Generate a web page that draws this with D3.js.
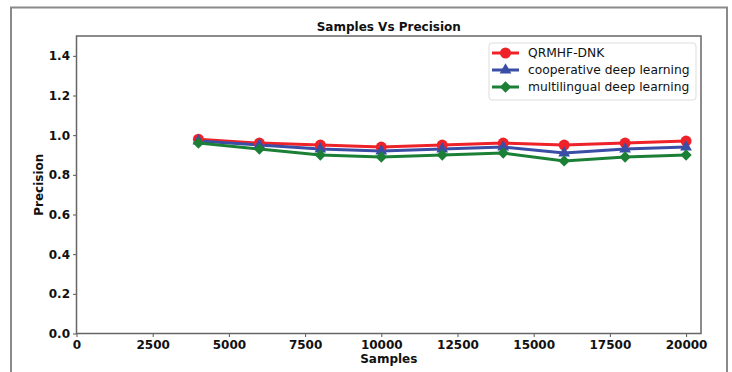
<!DOCTYPE html>
<html>
<head>
<meta charset="utf-8">
<script src="https://cdn.jsdelivr.net/npm/d3@7"></script>
<style>
  body { margin: 0; background: #fff; }
  svg { display: block; font-family: "DejaVu Sans", sans-serif; }
</style>
</head>
<body>
<div id="chart"></div>
<script>
// data
const samples = [4000, 6000, 8000, 10000, 12000, 14000, 16000, 18000, 20000];
const qrmhf = [0.98, 0.96, 0.95, 0.94, 0.95, 0.96, 0.95, 0.96, 0.97];
const cooperative = [0.97, 0.95, 0.93, 0.92, 0.93, 0.94, 0.91, 0.93, 0.94];
const multilingual = [0.96, 0.93, 0.90, 0.89, 0.90, 0.91, 0.87, 0.89, 0.90];
const seriesNames = ["QRMHF-DNK", "cooperative deep learning", "multilingual deep learning"];
const xTicks = [0, 2500, 5000, 7500, 10000, 12500, 15000, 17500, 20000];
const yTicks = [0, 0.2, 0.4, 0.6, 0.8, 1.0, 1.2, 1.4];

const series = [
  {name: seriesNames[0], values: qrmhf, color: "#ee2229", marker: "circle"},
  {name: seriesNames[1], values: cooperative, color: "#3a4ea6", marker: "triangle"},
  {name: seriesNames[2], values: multilingual, color: "#1b8036", marker: "diamond"},
];

const W = 732, H = 372;
const margin = {top: 36, right: 31, bottom: 38.5, left: 76.5};

const svg = d3.select("#chart").append("svg")
  .attr("width", W)
  .attr("height", H);

// outer frame
svg.append("rect")
  .attr("x", 11).attr("y", 7.5)
  .attr("width", 716).attr("height", 370)
  .attr("fill", "none")
  .attr("stroke", "#8a8a8a")
  .attr("stroke-width", 2);

const x = d3.scaleLinear()
  .domain([0, 20490])
  .range([margin.left, W - margin.right]);

const y = d3.scaleLinear()
  .domain([0, 1.5])
  .range([H - margin.bottom, margin.top]);

const styleTicks = g => g.selectAll("text")
  .attr("fill", "#111")
  .style("font-size", "12px")
  .style("font-weight", "bold")
  .style("font-family", "'DejaVu Sans', sans-serif");

// x axis
svg.append("g")
  .attr("transform", `translate(0,${H - margin.bottom})`)
  .call(d3.axisBottom(x).tickValues(xTicks).tickSize(3.5).tickPadding(3).tickFormat(d3.format("d")))
  .call(g => g.select(".domain").remove())
  .call(g => g.selectAll(".tick line").attr("stroke", "#555"))
  .call(styleTicks);

// y axis
svg.append("g")
  .attr("transform", `translate(${margin.left},0)`)
  .call(d3.axisLeft(y).tickValues(yTicks).tickSize(3.5).tickPadding(3).tickFormat(d3.format(".1f")))
  .call(g => g.select(".domain").remove())
  .call(g => g.selectAll(".tick line").attr("stroke", "#555"))
  .call(styleTicks);

// axes box
svg.append("rect")
  .attr("x", margin.left).attr("y", margin.top)
  .attr("width", W - margin.left - margin.right)
  .attr("height", H - margin.top - margin.bottom)
  .attr("fill", "none")
  .attr("stroke", "#666")
  .attr("stroke-width", 1.5);

// titles
const label = (tx, ty, txt, rot) => svg.append("text")
  .attr("transform", `translate(${tx},${ty})` + (rot ? ` rotate(${rot})` : ""))
  .attr("text-anchor", "middle")
  .style("font-size", "12px")
  .style("font-weight", "bold")
  .attr("fill", "#111")
  .text(txt);

const midX = (margin.left + W - margin.right) / 2;
label(midX, 31, "Samples Vs Precision");
label(midX, 363, "Samples");
label(43, (margin.top + H - margin.bottom) / 2, "Precision", -90);

// markers
const markerPath = m => {
  if (m === "circle") return d3.symbol().type(d3.symbolCircle).size(95)();
  if (m === "triangle") return d3.symbol().type(d3.symbolTriangle).size(60)();
  return d3.symbol().type(d3.symbolSquare).size(64)();
};
const markerRot = m => m === "diamond" ? " rotate(45)" : "";

const line = d3.line()
  .x((d, i) => x(samples[i]))
  .y(d => y(d));

const plot = svg.append("g");

series.forEach(s => {
  plot.append("path")
    .datum(s.values)
    .attr("fill", "none")
    .attr("stroke", s.color)
    .attr("stroke-width", 3)
    .attr("d", line);
});

series.forEach(s => {
  plot.selectAll(null)
    .data(s.values)
    .enter().append("path")
      .attr("transform", (d, i) => `translate(${x(samples[i])},${y(d)})` + markerRot(s.marker))
      .attr("d", markerPath(s.marker))
      .attr("fill", s.color);
});

// legend
const legend = svg.append("g").attr("transform", "translate(489,43)");
legend.append("rect")
  .attr("width", 207).attr("height", 57)
  .attr("rx", 3)
  .attr("fill", "#fff")
  .attr("fill-opacity", 0.8)
  .attr("stroke", "#ddd");

series.forEach((s, i) => {
  const row = legend.append("g").attr("transform", `translate(0,${10 + i * 17})`);
  row.append("line")
    .attr("x1", 3).attr("x2", 30)
    .attr("stroke", s.color).attr("stroke-width", 3);
  row.append("path")
    .attr("transform", "translate(16.5,0)" + markerRot(s.marker))
    .attr("d", markerPath(s.marker))
    .attr("fill", s.color);
  row.append("text")
    .attr("x", 39).attr("y", 0).attr("dy", "0.35em")
    .style("font-size", "12.3px")
    .attr("fill", "#111")
    .text(s.name);
});
</script>
</body>
</html>
